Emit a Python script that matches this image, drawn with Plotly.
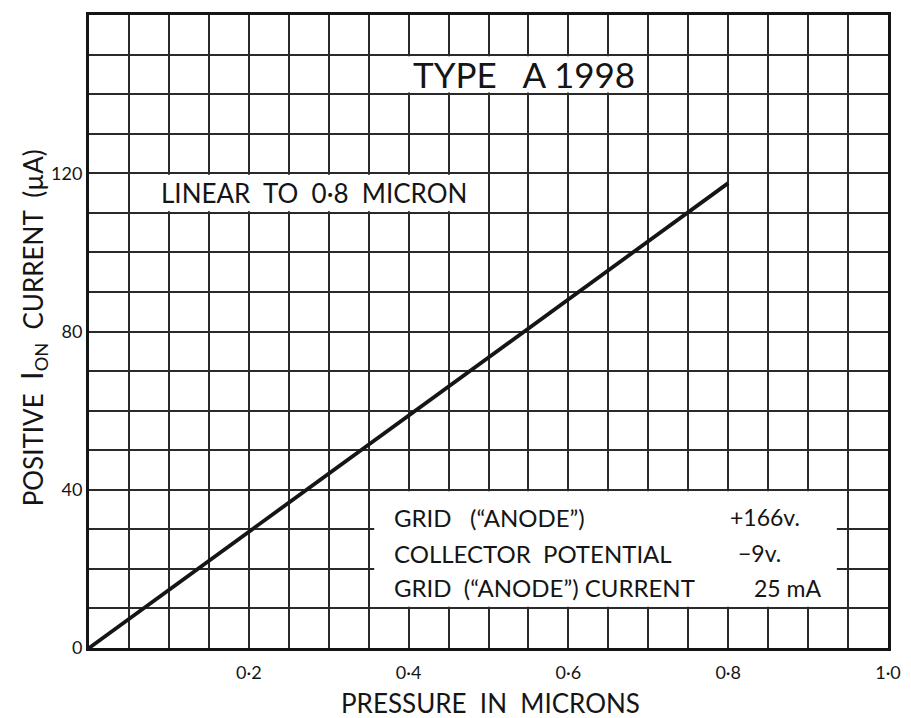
import plotly.graph_objects as go

# Data
pressure_microns = [0.0, 0.8]
ion_current_uA = [0.0, 117.5]

x_tick_vals = [0.2, 0.4, 0.6, 0.8, 1.0]
x_tick_text = ["0·2", "0·4", "0·6", "0·8", "1·0"]
y_tick_vals = [0, 40, 80, 120]
y_tick_text = ["0", "40", "80", "120"]

NB = "\u00a0"
title_text = f"TYPE{NB*3}A{NB}1998"
note_text = f"LINEAR{NB} TO{NB} 0·8{NB} MICRON"
cond_labels = [f"GRID{NB*2} (“ANODE”)", f"COLLECTOR{NB} POTENTIAL", f"GRID{NB} (“ANODE”){NB}CURRENT"]
cond_values = ["+166v.", "−9v.", "25 mA"]

FONT = "Lato, 'Open Sans', sans-serif"
INK = "#151515"

fig = go.Figure()
fig.add_trace(go.Scatter(
    x=pressure_microns, y=ion_current_uA, mode="lines",
    line=dict(color=INK, width=3.8), showlegend=False, hoverinfo="skip"))

grid = dict(showgrid=True, gridcolor="#2a2a2a", gridwidth=1.6)

fig.update_xaxes(
    range=[0, 1.0], tickmode="array", tickvals=x_tick_vals, ticktext=x_tick_text,
    ticks="", ticklabelstandoff=6, tickfont=dict(family=FONT, size=18, color=INK),
    showline=True, linecolor=INK, linewidth=3, mirror=True, zeroline=False,
    minor=dict(tickmode="linear", tick0=0, dtick=0.05, **grid), **grid)
fig.update_yaxes(
    range=[0, 160], tickmode="array", tickvals=y_tick_vals, ticktext=y_tick_text,
    ticks="", ticklabelstandoff=0, tickfont=dict(family=FONT, size=18, color=INK),
    showline=True, linecolor=INK, linewidth=3, mirror=True, zeroline=False,
    minor=dict(tickmode="linear", tick0=0, dtick=10, **grid), **grid)

# white label boxes masking the grid
boxes = [(0.385, 0.695, 140.4, 149.6), (0.068, 0.487, 110.4, 119.6), (0.357, 0.936, 10.4, 39.6)]
for x0, x1, y0, y1 in boxes:
    fig.add_shape(type="rect", x0=x0, x1=x1, y0=y0, y1=y1, xref="x", yref="y",
                  fillcolor="white", line=dict(width=0), layer="between")

anns = []
anns.append(dict(x=0.545, y=145, text=title_text, font=dict(family=FONT, size=35, color=INK),
                 xanchor="center", yanchor="middle", showarrow=False))
anns.append(dict(x=0.282, y=115, text=note_text, font=dict(family=FONT, size=26, color=INK),
                 xanchor="center", yanchor="middle", showarrow=False))
cond_y = [33.0, 24.0, 15.2]
cond_val_x = [0.800, 0.810, 0.830]
for lab, val, yy, vx in zip(cond_labels, cond_values, cond_y, cond_val_x):
    anns.append(dict(x=0.379, y=yy, text=lab, font=dict(family=FONT, size=24, color=INK),
                     xanchor="left", yanchor="middle", showarrow=False))
    anns.append(dict(x=vx, y=yy, text=val, font=dict(family=FONT, size=23, color=INK),
                     xanchor="left", yanchor="middle", showarrow=False))

anns.append(dict(xref="paper", yref="paper", x=0.503, y=0, yshift=-55,
                 text=f"PRESSURE{NB} IN{NB} MICRONS", font=dict(family=FONT, size=26, color=INK),
                 xanchor="center", yanchor="middle", showarrow=False))
anns.append(dict(xref="paper", yref="paper", x=0, y=0.505, xshift=-57, textangle=-90,
                 text=f"POSITIVE{NB*2}<span style='font-size:31px'>I</span><sub>ON</sub>{NB*2}CURRENT{NB*2}(µA)",
                 font=dict(family=FONT, size=26, color=INK),
                 xanchor="center", yanchor="middle", showarrow=False))

fig.update_layout(
    width=903, height=710, margin=dict(l=81, r=23, t=4, b=70),
    paper_bgcolor="white", plot_bgcolor="white", annotations=anns,
    font=dict(family=FONT, color=INK))

fig.write_html("out.html")
